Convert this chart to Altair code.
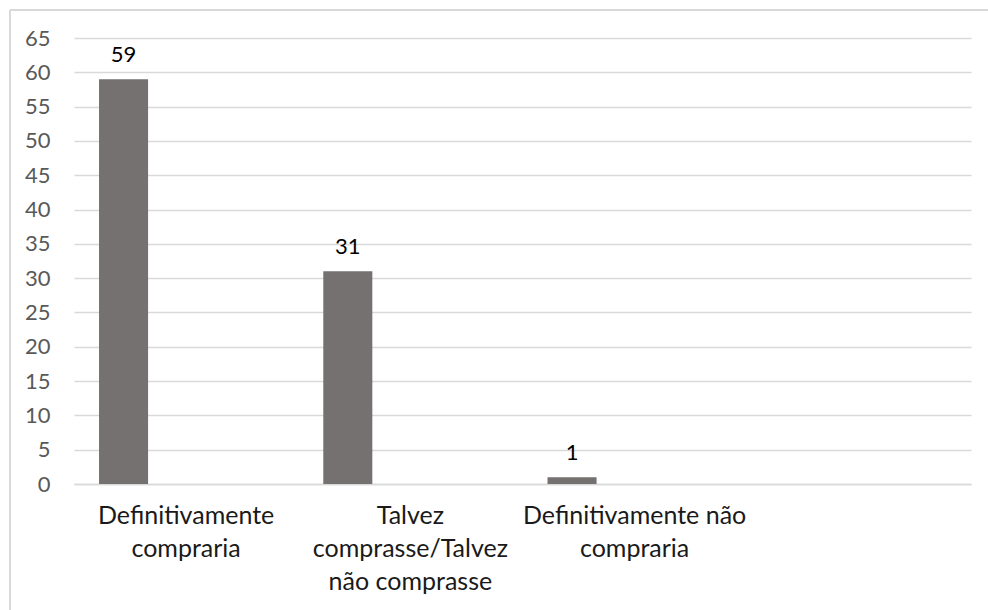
import json
import altair as alt
import pandas as pd

# Survey answers and their counts
categories = ["Definitivamente compraria",
              "Talvez comprasse/Talvez não comprasse",
              "Definitivamente não compraria",
              " "]
counts = [59, 31, 1]
# wrapped axis labels, one list of lines per category
label_lines = [["Definitivamente", "compraria"],
               ["Talvez", "comprasse/Talvez", "não comprasse"],
               ["Definitivamente não", "compraria"],
               [" "]]
series = ["Série 1", "Série 2"]
y_ticks = list(range(0, 66, 5))

df = pd.DataFrame({
    "categoria": categories[:len(counts)],
    "valor": counts,
    "serie": [series[0]] * len(counts),
})

label_map = json.dumps(dict(zip(categories, label_lines)), ensure_ascii=False)

FONT = "Lato"
GRID = "#d9d9d9"

x_enc = alt.X("categoria:N",
              scale=alt.Scale(domain=categories, paddingInner=0, paddingOuter=0),
              axis=alt.Axis(title=None, labelAngle=0, ticks=False,
                            domain=True, domainColor=GRID, domainWidth=1.5,
                            labelExpr=f"{label_map}[datum.value]",
                            labelFont=FONT, labelFontSize=25, labelColor="#1a1a1a",
                            labelPadding=19, labelLineHeight=33, labelLimit=0,
                            labelBaseline="top", labelOverlap=False))
xoff_enc = alt.XOffset("serie:N",
                       scale=alt.Scale(domain=series, paddingInner=0.608, paddingOuter=0.2))
y_enc = alt.Y("valor:Q",
              scale=alt.Scale(domain=[0, 65], nice=False, zero=True),
              axis=alt.Axis(title=None, values=y_ticks, tickCount=14, ticks=False,
                            domain=False, grid=True, gridColor=GRID, gridWidth=1.5,
                            labelFont=FONT, labelFontSize=22, labelColor="#595959",
                            labelPadding=24, labelOverlap=False))

bars = alt.Chart(df).mark_bar(color="#767171").encode(x=x_enc, xOffset=xoff_enc, y=y_enc)

texts = alt.Chart(df).mark_text(font=FONT, fontSize=22, color="#000000",
                                baseline="alphabetic", dy=-17).encode(
    x=x_enc, xOffset=xoff_enc, y=y_enc, text=alt.Text("valor:Q"))

# chart frame (top and left edges)
frame_top = alt.Chart(df).mark_rule(color=GRID, strokeWidth=1.5).encode(
    x=alt.value(-64), x2=alt.value(930), y=alt.value(-28))
frame_left = alt.Chart(df).mark_rule(color=GRID, strokeWidth=1.5).encode(
    x=alt.value(-64), y=alt.value(-28), y2=alt.value(600))

chart = alt.layer(bars, texts, frame_top, frame_left).properties(
    width=897, height=446,
    autosize=alt.AutoSizeParams(type="none"),
    padding={"left": 74, "top": 38, "right": 17, "bottom": 126},
    background="white",
).configure_view(stroke=None)

chart.save("out.html", embed_options={"renderer": "svg", "actions": False})
